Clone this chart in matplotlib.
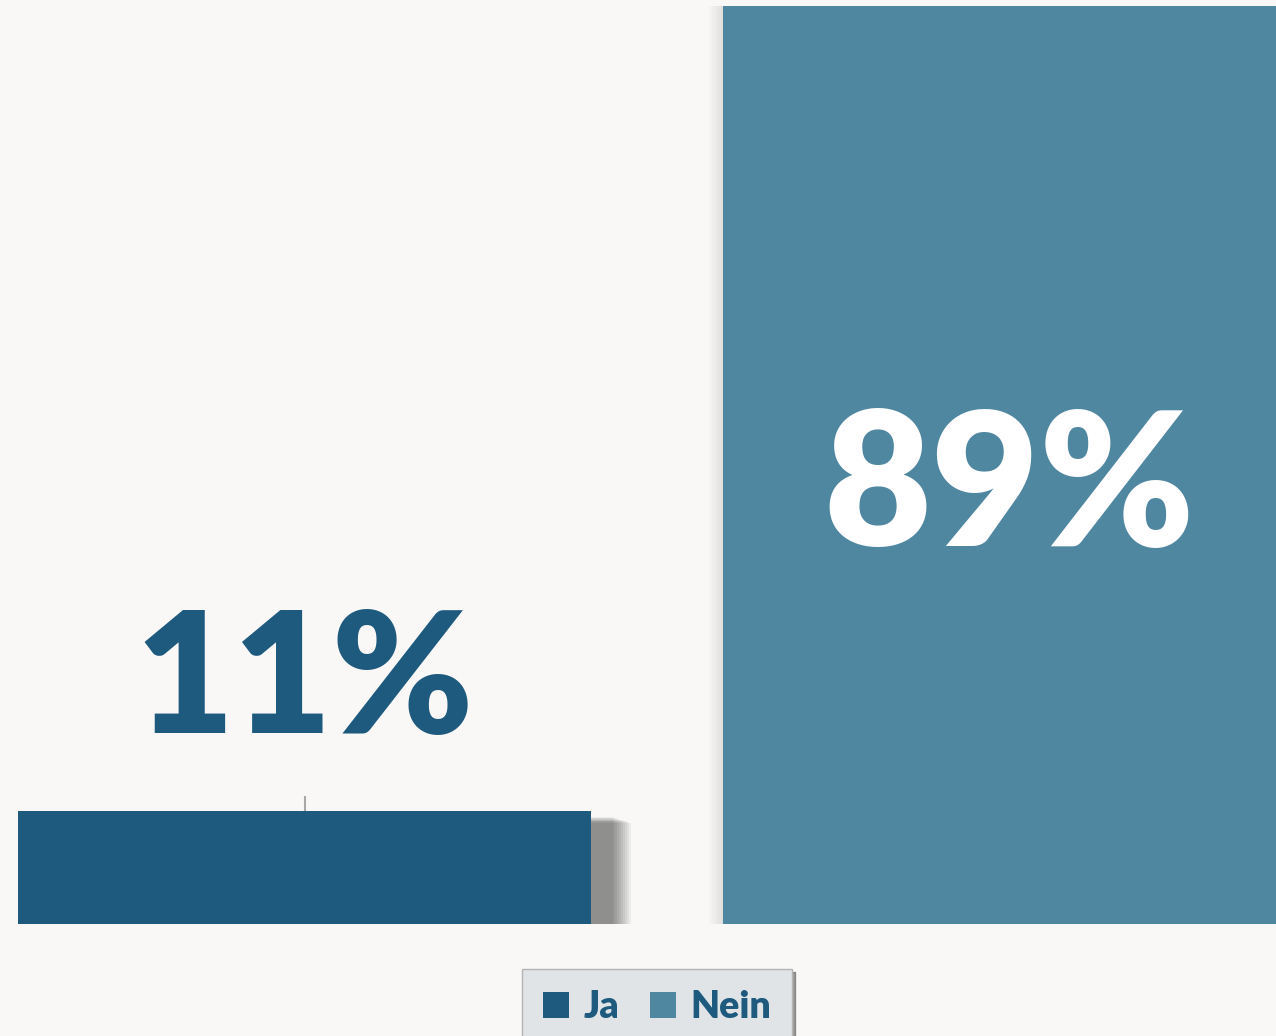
import matplotlib.pyplot as plt
import matplotlib.patheffects as pe
from matplotlib.patches import Patch

# daten
kategorien = ["Ja", "Nein"]
werte = [11, 89]
beschriftung = ["11%", "89%"]
farben = ["#1d5a7e", "#4f87a1"]

hintergrund = "#f9f8f6"

fig = plt.figure(figsize=(12.76, 10.36), dpi=100, facecolor=hintergrund)
ax = fig.add_axes([0, 0.108, 1, 0.892])
ax.set_facecolor(hintergrund)

pos = list(range(len(werte)))
balken = ax.bar(pos, werte, width=0.813, color=farben, zorder=2)

# weicher schatten: viele lagen mit wenig alpha
px = 72 / 100
schatten1 = [pe.withSimplePatchShadow(offset=(d * px, -(d * 0.3) * px), shadow_rgbFace="black", alpha=0.05)
             for d in range(22, 42, 2)]
balken[0].set_path_effects(schatten1 + [pe.Normal()])
schatten2 = [pe.withSimplePatchShadow(offset=(-d * px, 0), shadow_rgbFace="black", alpha=0.02)
             for d in range(2, 16, 3)]
balken[1].set_path_effects(schatten2 + [pe.Normal()])

# kleiner strich über dem ersten balken
ax.vlines(pos[0], werte[0], werte[0] + 1.4, color="#a8a8a8", lw=1.5, zorder=1)

# beschriftungen
ax.text(pos[0], werte[0] + 7.5, beschriftung[0], ha="center", va="baseline",
        fontsize=122, fontweight="heavy", family="Lato", color=farben[0])
ax.text(pos[1], werte[1] / 2 - 7.8, beschriftung[1], ha="center", va="baseline",
        fontsize=134, fontweight="heavy", family="Lato", color="white")

ax.set_xlim(-0.432, 1.378)
ax.set_ylim(0, 89.6)
ax.axis("off")

handles = [Patch(facecolor=f, edgecolor="none") for f in farben]
leg = fig.legend(handles, kategorien, loc="center", bbox_to_anchor=(657 / 1276, 1 - 1007 / 1036),
                 ncol=2, frameon=True, fancybox=False, shadow=True,
                 handlelength=0.7, handleheight=0.7, handletextpad=0.4, columnspacing=0.8,
                 borderpad=0.55,
                 prop={"family": "Lato", "weight": "heavy", "size": 27})
leg.get_frame().set_facecolor("#e0e4e7")
leg.get_frame().set_edgecolor("#b4b4b4")
leg.get_frame().set_alpha(1)
for t in leg.get_texts():
    t.set_color(farben[0])

plt.savefig("out.png", dpi=100, facecolor=hintergrund)
